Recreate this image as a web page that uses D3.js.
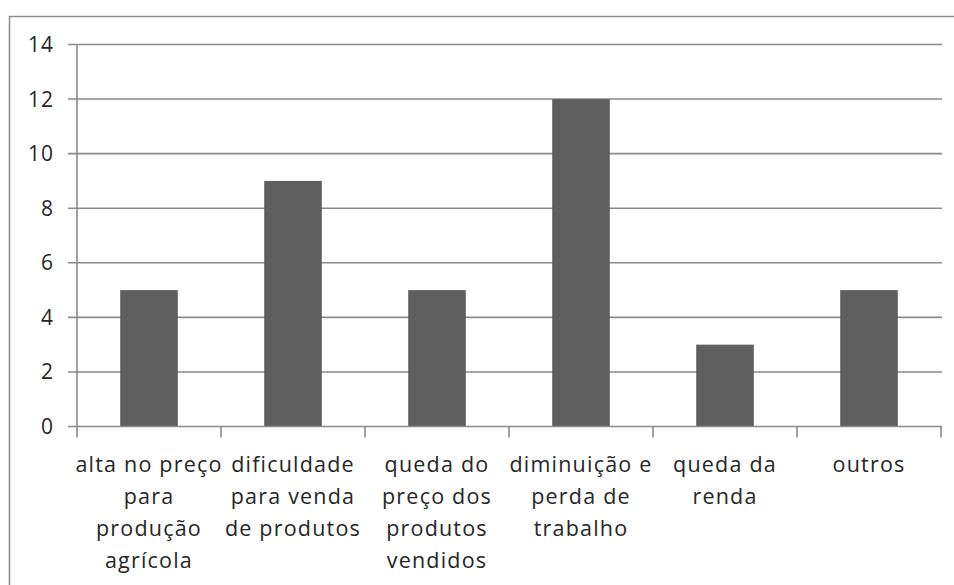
<!DOCTYPE html>
<html>
<head>
<meta charset="utf-8">
<script src="https://cdn.jsdelivr.net/npm/d3@7/dist/d3.min.js"></script>
<style>
  html, body { margin: 0; padding: 0; background: #ffffff; }
  svg { display: block; }
  text { font-family: "Open Sans", "Noto Sans", sans-serif; fill: #262626; }
</style>
</head>
<body>
<svg id="chart" width="954" height="585"></svg>
<script>
// Categories (each as the lines of its wrapped label)
const categories = [
  ["alta no preço", "para", "produção", "agrícola"],
  ["dificuldade", "para venda", "de produtos"],
  ["queda do", "preço dos", "produtos", "vendidos"],
  ["diminuição e", "perda de", "trabalho"],
  ["queda da", "renda"],
  ["outros"]
];
const values = [5, 9, 5, 12, 3, 5];
const yTicks = [0, 2, 4, 6, 8, 10, 12, 14];

(function () {
  const svg = d3.select("#chart");
  const W = 954, H = 585;

  // outer chart frame
  svg.append("rect")
    .attr("x", 9.5).attr("y", 16.5)
    .attr("width", W).attr("height", H)
    .attr("fill", "#ffffff")
    .attr("stroke", "#8c8c8c").attr("stroke-width", 1.5);

  const plotLeft = 77, plotRight = 941, plotTop = 44.5, plotBottom = 426.5;
  const keys = categories.map(c => c.join(" "));

  const x = d3.scaleBand()
    .domain(keys)
    .range([plotLeft, plotRight])
    .paddingInner(0.6)
    .paddingOuter(0.3);

  const y = d3.scaleLinear().domain([0, 14]).range([plotBottom, plotTop]);

  const lineColor = "#8a8a8a";

  // horizontal gridlines with short outer ticks on the left
  svg.append("g").selectAll("line")
    .data(yTicks.filter(d => d > 0))
    .join("line")
    .attr("x1", plotLeft - 9).attr("x2", plotRight + 1)
    .attr("y1", d => y(d)).attr("y2", d => y(d))
    .attr("stroke", lineColor).attr("stroke-width", 1.6);

  // y tick labels
  svg.append("g").selectAll("text")
    .data(yTicks)
    .join("text")
    .attr("x", 54)
    .attr("y", d => y(d))
    .attr("dy", "0.36em")
    .attr("text-anchor", "end")
    .attr("font-size", 21)
    .style("letter-spacing", "1px")
    .text(d => d);

  // bars
  svg.append("g").selectAll("rect")
    .data(values)
    .join("rect")
    .attr("x", (d, i) => x(keys[i]))
    .attr("y", d => y(d))
    .attr("width", x.bandwidth())
    .attr("height", d => y(0) - y(d))
    .attr("fill", "#5f5f5f");

  // y axis line
  svg.append("line")
    .attr("x1", plotLeft).attr("x2", plotLeft)
    .attr("y1", y(14)).attr("y2", y(0))
    .attr("stroke", lineColor).attr("stroke-width", 1.6);

  // x axis line (with left tick overhang)
  svg.append("line")
    .attr("x1", plotLeft - 9).attr("x2", plotRight + 1)
    .attr("y1", y(0)).attr("y2", y(0))
    .attr("stroke", lineColor).attr("stroke-width", 1.6);

  // tick marks at the category boundaries
  const boundaries = d3.range(keys.length + 1).map(i => plotLeft + i * x.step());
  svg.append("g").selectAll("line")
    .data(boundaries)
    .join("line")
    .attr("x1", d => d).attr("x2", d => d)
    .attr("y1", y(0)).attr("y2", y(0) + 11)
    .attr("stroke", lineColor).attr("stroke-width", 1.6);

  // category labels, one tspan per line
  const lab = svg.append("g").selectAll("text")
    .data(categories)
    .join("text")
    .attr("x", (d, i) => x(keys[i]) + x.bandwidth() / 2)
    .attr("y", 472)
    .attr("text-anchor", "middle")
    .attr("font-size", 21.5)
    .style("letter-spacing", "1.2px");

  lab.selectAll("tspan")
    .data((d, i) => d.map(t => ({ t, cx: x(keys[i]) + x.bandwidth() / 2 })))
    .join("tspan")
    .attr("x", d => d.cx)
    .attr("dy", (d, j) => j === 0 ? 0 : 32)
    .text(d => d.t);
})();
</script>
</body>
</html>
